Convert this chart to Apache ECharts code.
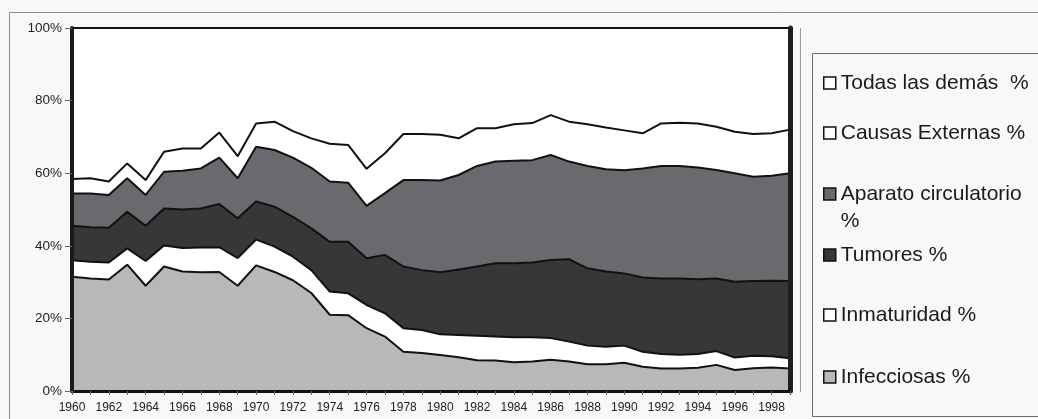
<!DOCTYPE html>
<html>
<head>
<meta charset="utf-8">
<script src="https://cdn.jsdelivr.net/npm/echarts@6/dist/echarts.min.js"></script>
<style>
html,body{margin:0;padding:0;background:#f8f8f8;}
#chart{width:1038px;height:419px;}
</style>
</head>
<body>
<div id="chart"></div>
<script>
var years = ['1960','1961','1962','1963','1964','1965','1966','1967','1968','1969',
  '1970','1971','1972','1973','1974','1975','1976','1977','1978','1979',
  '1980','1981','1982','1983','1984','1985','1986','1987','1988','1989',
  '1990','1991','1992','1993','1994','1995','1996','1997','1998','1999'];

var infecciosas = [31.5,31.0,30.7,34.8,29.0,34.3,32.9,32.7,32.8,29.0,
  34.6,32.8,30.5,27.0,21.0,20.9,17.3,15.0,10.8,10.5,
  9.9,9.3,8.5,8.4,7.9,8.1,8.6,8.1,7.4,7.4,
  7.8,6.7,6.2,6.2,6.4,7.2,5.8,6.3,6.5,6.2];
var inmaturidad = [4.5,4.6,4.7,4.5,6.8,5.8,6.5,6.8,6.8,7.6,
  7.1,7.0,6.5,6.3,6.4,6.0,6.4,6.4,6.5,6.3,
  5.7,6.1,6.7,6.6,6.9,6.7,6.0,5.5,5.1,4.8,
  4.7,4.1,4.0,3.8,3.8,3.8,3.4,3.4,3.1,2.8];
var tumores = [9.5,9.5,9.6,10.1,9.7,10.2,10.6,10.8,11.9,11.0,
  10.5,11.0,11.0,11.5,13.7,14.2,12.9,16.1,17.0,16.5,
  17.1,18.1,19.1,20.2,20.4,20.6,21.5,22.7,21.3,20.7,
  19.9,20.5,20.8,21.0,20.6,20.0,20.9,20.6,20.8,21.3];
var aparato = [8.9,9.3,9.0,9.2,8.5,10.1,10.7,11.0,12.8,11.0,
  15.1,15.6,16.3,16.7,16.6,16.3,14.4,17.0,23.8,24.8,
  25.3,26.0,27.7,28.0,28.2,28.2,28.9,26.9,28.2,28.2,
  28.4,30.0,31.0,31.0,30.8,29.9,29.9,28.7,28.9,29.7];
var causas = [4.0,4.2,3.7,4.1,4.1,5.5,6.1,5.5,6.9,6.1,
  6.4,7.8,7.3,8.1,10.4,10.4,10.2,11.0,12.7,12.7,
  12.6,10.1,10.4,9.2,10.1,10.2,11.0,11.0,11.5,11.5,
  11.0,9.7,11.7,11.9,12.1,11.9,11.4,11.8,11.7,12.0];
var todas = [41.6,41.4,42.3,37.3,41.9,34.1,33.2,33.2,28.8,35.3,
  26.3,25.8,28.4,30.4,31.9,32.2,38.8,34.5,29.2,29.2,
  29.4,30.4,27.6,27.6,26.5,26.2,24.0,25.8,26.5,27.4,
  28.2,29.0,26.3,26.1,26.3,27.2,28.6,29.2,29.0,28.0];

var seriesDefs = [
  {name:'Infecciosas %', data:infecciosas, color:'#b8b8ba', z:9},
  {name:'Inmaturidad %', data:inmaturidad, color:'#ffffff', z:8},
  {name:'Tumores %', data:tumores, color:'#383637', z:7},
  {name:'Aparato circulatorio %', data:aparato, color:'#6a6a6e', z:6},
  {name:'Causas Externas %', data:causas, color:'#ffffff', z:5},
  {name:'Todas las demás  %', data:todas, color:'#ffffff', z:4}
];

var series = seriesDefs.map(function(s){
  return {
    name: s.name,
    type: 'line',
    stack: 'total',
    data: s.data,
    symbol: 'none',
    z: s.z,
    color: s.color,
    lineStyle: {color:'#111', width:2},
    areaStyle: {color: s.color, opacity: 1},
    itemStyle: {color: s.color, borderColor:'#111', borderWidth:1.5}
  };
});

var legendCenters = {
  'Todas las demás  %': 83,
  'Causas Externas %': 133,
  'Aparato circulatorio %': 194,
  'Tumores %': 255,
  'Inmaturidad %': 315,
  'Infecciosas %': 377
};
var legends = Object.keys(legendCenters).map(function(n){
  var multi = n === 'Aparato circulatorio %';
  return {
    data: [n],
    orient: 'vertical',
    left: 823,
    top: legendCenters[n] - (multi ? 40.5 : 12),
    padding: 0,
    itemWidth: 12,
    itemHeight: 12,
    itemGap: 0,
    icon: 'rect',
    selectedMode: false,
    formatter: multi ? function(){ return ' \nAparato circulatorio\n%'; } : undefined,
    itemStyle: {borderColor:'#111', borderWidth:1.5},
    textStyle: {
      fontFamily: 'Liberation Sans, Arial, sans-serif',
      fontSize: 21,
      color: '#1a1a1a',
      lineHeight: multi ? 27 : 24
    }
  };
});

var chart = echarts.init(document.getElementById('chart'), null, {renderer:'canvas'});
chart.setOption({
  backgroundColor: '#f8f8f8',
  animation: false,
  grid: {left: 72, right: 248, top: 28, bottom: 28},
  legend: legends,
  xAxis: [{
    type: 'category',
    data: years,
    boundaryGap: false,
    axisLine: {lineStyle: {color:'#777', width:1}},
    axisTick: {show:true, interval:0, length:4, lineStyle:{color:'#666'}},
    axisLabel: {interval:1, margin:11, fontSize:12, color:'#222',
      fontFamily:'Liberation Sans, Arial, sans-serif'},
    z: 10
  },{
    type: 'category',
    data: years,
    boundaryGap: false,
    position: 'top',
    axisLine: {show:true, lineStyle:{color:'#111', width:3}},
    axisTick: {show:false},
    axisLabel: {show:false},
    z: 10
  }],
  yAxis: [{
    type: 'value',
    min: 0, max: 100, interval: 20,
    axisLine: {show:true, lineStyle:{color:'#1a1a1a', width:4}},
    axisTick: {show:true, length:7, lineStyle:{color:'#666'}},
    axisLabel: {formatter:'{value}%', fontSize:13.5, color:'#222', margin:10,
      fontFamily:'Liberation Sans, Arial, sans-serif'},
    splitLine: {show:false},
    z: 10
  },{
    type: 'value',
    min: 0, max: 100, interval: 20,
    position: 'right',
    axisLine: {show:true, lineStyle:{color:'#1f1f1f', width:5}},
    axisTick: {show:false},
    axisLabel: {show:false},
    splitLine: {show:false},
    z: 10
  }],
  graphic: [
    {type:'rect', z:-1, silent:true,
      shape:{x:9.5, y:12.5, width:1100, height:500},
      style:{fill:null, stroke:'#8a8a8a', lineWidth:1}},
    {type:'line', z:-1, silent:true,
      shape:{x1:800.5, y1:28, x2:800.5, y2:392},
      style:{stroke:'#999', lineWidth:1}},
    {type:'rect', z:-1, silent:true,
      shape:{x:812.5, y:53.5, width:300, height:363},
      style:{fill:'#f8f8f8', stroke:'#6e6e6e', lineWidth:1}}
  ],
  series: series
});
</script>
</body>
</html>
